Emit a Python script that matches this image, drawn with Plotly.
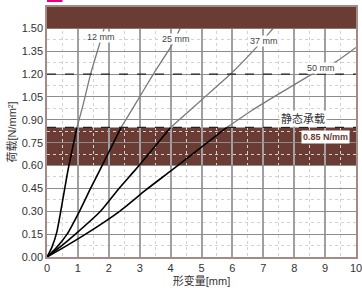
import plotly.graph_objects as go

# ---- data ----
x12 = [0, 0.15, 0.32, 0.68, 0.97, 1.17, 1.41, 1.69, 1.85, 2.05]
y12 = [0, 0.06, 0.165, 0.57, 0.85, 1.0, 1.2, 1.39, 1.5, 1.64]

x25 = [0, 0.3, 0.65, 1.05, 1.41, 1.71, 2.4, 2.74, 3.44, 4.04, 4.31, 4.7]
y25 = [0, 0.06, 0.15, 0.3, 0.45, 0.57, 0.85, 0.963, 1.2, 1.39, 1.5, 1.64]

x37 = [0, 0.45, 0.92, 1.73, 2.33, 2.85, 4.0, 5.0, 5.94, 6.8, 7.45, 7.95]
y37 = [0, 0.07, 0.15, 0.30, 0.45, 0.57, 0.85, 1.03, 1.2, 1.38, 1.53, 1.64]

x50 = [0, 0.6, 1.25, 2.35, 3.2, 4.04, 5.82, 6.64, 8.58, 9.34, 10.0]
y50 = [0, 0.07, 0.15, 0.3, 0.44, 0.57, 0.85, 0.963, 1.2, 1.28, 1.375]

curve_names = ["12 mm", "25 mm", "37 mm", "50 mm"]
label_x = [1.75, 4.19, 7.02, 8.88]
label_y = [1.44, 1.43, 1.42, 1.24]

static_load = 0.85
band_low = 0.60
limit_line = 1.20
top_band_low = 1.50
x_range = [0, 10]
y_range = [0, 1.64]
y_ticks = [0.0, 0.15, 0.30, 0.45, 0.60, 0.75, 0.90, 1.05, 1.20, 1.35, 1.50]

BROWN = "#6a3c33"
FONT = "Liberation Sans, Noto Sans CJK SC, sans-serif"

fig = go.Figure()

for xs, ys, name in [(x12, y12, "12 mm"), (x25, y25, "25 mm"), (x37, y37, "37 mm"), (x50, y50, "50 mm")]:
    k = ys.index(static_load)
    fig.add_trace(go.Scatter(x=xs[:k + 1], y=ys[:k + 1], mode="lines",
                             line=dict(color="#000000", width=1.6, shape="spline", smoothing=0.5),
                             name=name, showlegend=False, hoverinfo="skip"))
    fig.add_trace(go.Scatter(x=xs[k:], y=ys[k:], mode="lines",
                             line=dict(color="#7a7a7a", width=1.3, shape="spline", smoothing=0.5),
                             name=name, showlegend=False, hoverinfo="skip"))

shapes = [
    dict(type="rect", xref="x", yref="y", x0=x_range[0], x1=x_range[1], y0=band_low, y1=static_load,
         fillcolor=BROWN, line_width=0, layer="below"),
    dict(type="rect", xref="x", yref="y", x0=x_range[0], x1=x_range[1], y0=top_band_low, y1=y_range[1],
         fillcolor=BROWN, line_width=0, layer="above"),
    dict(type="line", xref="x", yref="y", x0=x_range[0], x1=x_range[1], y0=static_load, y1=static_load,
         line=dict(color="#222222", width=1.2, dash="dash"), layer="above"),
    dict(type="line", xref="x", yref="y", x0=x_range[0], x1=x_range[1], y0=limit_line, y1=limit_line,
         line=dict(color="#222222", width=1.2, dash="dash"), layer="above"),
    dict(type="rect", xref="paper", yref="paper", x0=0.0, x1=0.05, y0=1.02, y1=1.04,
         fillcolor="#e6007e", line_width=0),
]

annotations = []
for name, lx, ly in zip(curve_names, label_x, label_y):
    annotations.append(dict(x=lx, y=ly, xref="x", yref="y", text=name, showarrow=False,
                            font=dict(size=9, color="#444444", family=FONT),
                            bgcolor="white", borderpad=0))
annotations.append(dict(x=8.29, y=0.91, xref="x", yref="y", text="静态承载", showarrow=False,
                        font=dict(size=11, color="#333333", family=FONT), bgcolor="white", borderpad=1))
annotations.append(dict(x=9.0, y=0.787, xref="x", yref="y", text="<b>0.85 N/mm</b>", showarrow=False,
                        font=dict(size=9, color=BROWN, family=FONT), bgcolor="white", borderpad=1))

fig.update_layout(
    width=362, height=288,
    margin=dict(l=47, r=6, t=7, b=31),
    paper_bgcolor="white", plot_bgcolor="white",
    font=dict(family=FONT, size=11, color="#333333"),
    shapes=shapes, annotations=annotations,
    showlegend=False,
)

fig.update_xaxes(
    range=x_range, dtick=1, tick0=0, showgrid=True, gridcolor="#a0a0a0", gridwidth=1.8,
    showline=True, linecolor="#a58a85", linewidth=1.5, mirror=True, zeroline=False,
    ticks="", tickfont=dict(size=11, color="#333333"), automargin=False,
    ticklabeloverflow="allow",
    minor=dict(dtick=0.5, showgrid=True, gridcolor="#d2d2d2", griddash="dot", gridwidth=1),
    title=dict(text="形变量[mm]", font=dict(size=11, color="#333333"), standoff=1),
)
fig.update_yaxes(
    range=y_range, tickvals=y_ticks, tickformat=".2f", showgrid=True, gridcolor="#8c8c8c", gridwidth=1,
    showline=True, linecolor="#a58a85", linewidth=1.5, mirror=True, zeroline=False,
    ticks="", tickfont=dict(size=11, color="#333333"), automargin=False,
    minor=dict(dtick=0.075, tick0=0, showgrid=True, gridcolor="#d2d2d2", griddash="dot", gridwidth=1),
    title=dict(text="荷载[N/mm²]", font=dict(size=11, color="#333333"), standoff=3),
)

fig.write_html("out.html", config={"displayModeBar": False},
               post_script="document.body.style.margin='0';document.body.style.overflow='hidden';")
